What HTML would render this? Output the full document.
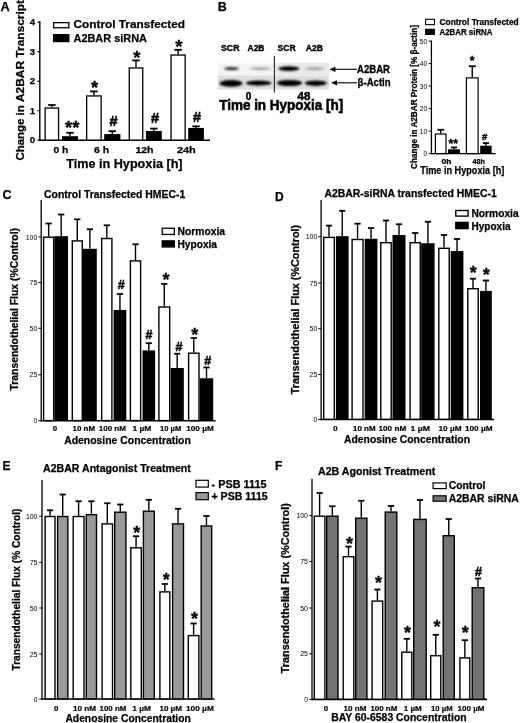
<!DOCTYPE html>
<html><head><meta charset="utf-8"><style>
html,body{margin:0;padding:0;background:#fff;}
body{width:520px;height:723px;overflow:hidden;}
svg{display:block;font-family:"Liberation Sans", sans-serif;will-change:transform;}
</style></head><body>
<svg width="520" height="723" viewBox="0 0 520 723">
<defs><filter id="bl" x="-20%" y="-100%" width="140%" height="300%"><feGaussianBlur stdDeviation="0.8"/></filter></defs>
<rect width="520" height="723" fill="#fff"/>
<text x="0.6" y="10.5" font-size="12.8" font-weight="bold" fill="#000" stroke="#000" stroke-width="0.25">A</text>
<text x="23.8" y="160.6" font-size="11.8" font-weight="bold" textLength="55.3" lengthAdjust="spacingAndGlyphs" transform="rotate(-90 23.8 160.6)" fill="#000" stroke="#000" stroke-width="0.25">Change in</text>
<text x="23.8" y="102.1" font-size="11.8" font-weight="bold" textLength="102.2" lengthAdjust="spacingAndGlyphs" transform="rotate(-90 23.8 102.1)" fill="#000" stroke="#000" stroke-width="0.25">A2BAR Transcript</text>
<line x1="39.80" y1="21.20" x2="39.80" y2="140.90" stroke="#000" stroke-width="1.4"/>
<line x1="39.80" y1="140.20" x2="210.00" y2="140.20" stroke="#000" stroke-width="1.6"/>
<line x1="37.40" y1="140.20" x2="39.80" y2="140.20" stroke="#000" stroke-width="1.2"/>
<text x="35.2" y="143.1" font-size="9.6" font-weight="bold" text-anchor="end" fill="#000" stroke="#000" stroke-width="0.25">0</text>
<line x1="37.40" y1="110.70" x2="39.80" y2="110.70" stroke="#000" stroke-width="1.2"/>
<text x="35.2" y="113.6" font-size="9.6" font-weight="bold" text-anchor="end" fill="#000" stroke="#000" stroke-width="0.25">1</text>
<line x1="37.40" y1="81.20" x2="39.80" y2="81.20" stroke="#000" stroke-width="1.2"/>
<text x="35.2" y="84.1" font-size="9.6" font-weight="bold" text-anchor="end" fill="#000" stroke="#000" stroke-width="0.25">2</text>
<line x1="37.40" y1="51.70" x2="39.80" y2="51.70" stroke="#000" stroke-width="1.2"/>
<text x="35.2" y="54.6" font-size="9.6" font-weight="bold" text-anchor="end" fill="#000" stroke="#000" stroke-width="0.25">3</text>
<line x1="37.40" y1="22.20" x2="39.80" y2="22.20" stroke="#000" stroke-width="1.2"/>
<text x="35.2" y="25.1" font-size="9.6" font-weight="bold" text-anchor="end" fill="#000" stroke="#000" stroke-width="0.25">4</text>
<rect x="53.65" y="22.65" width="15.20" height="5.10" fill="#fff" stroke="#000" stroke-width="1.3"/>
<rect x="53.00" y="34.00" width="16.50" height="8.20" fill="#000"/>
<text x="73.5" y="28.3" font-size="11.6" font-weight="bold" textLength="111.5" lengthAdjust="spacingAndGlyphs" fill="#000" stroke="#000" stroke-width="0.25">Control Transfected</text>
<text x="73.5" y="42.2" font-size="11.6" font-weight="bold" textLength="73.5" lengthAdjust="spacingAndGlyphs" fill="#000" stroke="#000" stroke-width="0.25">A2BAR siRNA</text>
<line x1="51.85" y1="107.40" x2="51.85" y2="105.00" stroke="#000" stroke-width="1.4"/>
<line x1="48.10" y1="105.00" x2="55.60" y2="105.00" stroke="#000" stroke-width="1.8"/>
<rect x="45.15" y="108.05" width="13.40" height="32.10" fill="#fff" stroke="#000" stroke-width="1.3"/>
<line x1="93.90" y1="95.30" x2="93.90" y2="91.40" stroke="#000" stroke-width="1.4"/>
<line x1="90.15" y1="91.40" x2="97.65" y2="91.40" stroke="#000" stroke-width="1.8"/>
<rect x="86.65" y="95.95" width="14.50" height="44.20" fill="#fff" stroke="#000" stroke-width="1.3"/>
<line x1="136.00" y1="67.30" x2="136.00" y2="60.40" stroke="#000" stroke-width="1.4"/>
<line x1="132.25" y1="60.40" x2="139.75" y2="60.40" stroke="#000" stroke-width="1.8"/>
<rect x="129.25" y="67.95" width="13.50" height="72.20" fill="#fff" stroke="#000" stroke-width="1.3"/>
<line x1="178.10" y1="54.40" x2="178.10" y2="49.80" stroke="#000" stroke-width="1.4"/>
<line x1="174.35" y1="49.80" x2="181.85" y2="49.80" stroke="#000" stroke-width="1.8"/>
<rect x="171.05" y="55.05" width="14.10" height="85.10" fill="#fff" stroke="#000" stroke-width="1.3"/>
<line x1="70.00" y1="136.20" x2="70.00" y2="132.80" stroke="#000" stroke-width="1.4"/>
<line x1="66.25" y1="132.80" x2="73.75" y2="132.80" stroke="#000" stroke-width="1.8"/>
<rect x="62.00" y="136.20" width="16.00" height="4.00" fill="#000"/>
<line x1="112.30" y1="134.10" x2="112.30" y2="131.20" stroke="#000" stroke-width="1.4"/>
<line x1="108.55" y1="131.20" x2="116.05" y2="131.20" stroke="#000" stroke-width="1.8"/>
<rect x="104.20" y="134.10" width="16.20" height="6.10" fill="#000"/>
<line x1="153.90" y1="131.00" x2="153.90" y2="128.60" stroke="#000" stroke-width="1.4"/>
<line x1="150.15" y1="128.60" x2="157.65" y2="128.60" stroke="#000" stroke-width="1.8"/>
<rect x="146.00" y="131.00" width="15.80" height="9.20" fill="#000"/>
<line x1="196.05" y1="127.90" x2="196.05" y2="126.30" stroke="#000" stroke-width="1.4"/>
<line x1="192.30" y1="126.30" x2="199.80" y2="126.30" stroke="#000" stroke-width="1.8"/>
<rect x="188.20" y="127.90" width="15.70" height="12.30" fill="#000"/>
<text x="94.5" y="94.04" font-size="18.5" font-weight="bold" text-anchor="middle" fill="#000" stroke="#000" stroke-width="0.3">*</text>
<text x="136.8" y="63.94" font-size="18.5" font-weight="bold" text-anchor="middle" fill="#000" stroke="#000" stroke-width="0.3">*</text>
<text x="178.8" y="53.04" font-size="18.5" font-weight="bold" text-anchor="middle" fill="#000" stroke="#000" stroke-width="0.3">*</text>
<text x="72.3" y="133.64" font-size="18.5" font-weight="bold" text-anchor="middle" fill="#000" stroke="#000" stroke-width="0.3">**</text>
<text x="113.5" y="126.0" font-size="14.5" font-weight="bold" text-anchor="middle" fill="#000" stroke="#000" stroke-width="0.5">#</text>
<text x="155" y="122.6" font-size="14.5" font-weight="bold" text-anchor="middle" fill="#000" stroke="#000" stroke-width="0.5">#</text>
<text x="197" y="121.9" font-size="14.5" font-weight="bold" text-anchor="middle" fill="#000" stroke="#000" stroke-width="0.5">#</text>
<text x="53.4" y="153.2" font-size="9.2" font-weight="bold" textLength="14.8" lengthAdjust="spacingAndGlyphs" fill="#000" stroke="#000" stroke-width="0.25">0 h</text>
<text x="94" y="153.2" font-size="9.2" font-weight="bold" textLength="15.2" lengthAdjust="spacingAndGlyphs" fill="#000" stroke="#000" stroke-width="0.25">6 h</text>
<text x="135.4" y="153.2" font-size="9.2" font-weight="bold" textLength="18.1" lengthAdjust="spacingAndGlyphs" fill="#000" stroke="#000" stroke-width="0.25">12h</text>
<text x="176.9" y="153.2" font-size="9.2" font-weight="bold" textLength="18.9" lengthAdjust="spacingAndGlyphs" fill="#000" stroke="#000" stroke-width="0.25">24h</text>
<text x="66.2" y="168.1" font-size="13" font-weight="bold" textLength="116.4" lengthAdjust="spacingAndGlyphs" fill="#000" stroke="#000" stroke-width="0.25">Time in Hypoxia [h]</text>
<text x="217.8" y="11.2" font-size="12.5" font-weight="bold" fill="#000" stroke="#000" stroke-width="0.25">B</text>
<rect x="218.00" y="63.50" width="56.00" height="11.50" fill="#f3f3f3"/>
<rect x="275.00" y="63.00" width="54.00" height="12.00" fill="#e9e9e9"/>
<rect x="218.00" y="75.50" width="111.00" height="14.00" fill="#dedede"/>
<ellipse cx="231.5" cy="68.6" rx="7.5" ry="1.6" fill="#000" opacity="0.8" filter="url(#bl)"/>
<ellipse cx="260.25" cy="68.6" rx="10.75" ry="1.3" fill="#000" opacity="0.35" filter="url(#bl)"/>
<ellipse cx="288.9" cy="68.6" rx="10.599999999999994" ry="2.3" fill="#000" opacity="1.0" filter="url(#bl)"/>
<ellipse cx="314.75" cy="68.6" rx="9.75" ry="1.3" fill="#000" opacity="0.35" filter="url(#bl)"/>
<ellipse cx="231.0" cy="83.4" rx="11.5" ry="3.4" fill="#000" filter="url(#bl)"/>
<ellipse cx="258.7" cy="83" rx="12.699999999999989" ry="2.6" fill="#000" filter="url(#bl)"/>
<ellipse cx="289.5" cy="83" rx="12.5" ry="3.1" fill="#000" filter="url(#bl)"/>
<ellipse cx="315.8" cy="83.2" rx="11.0" ry="2.7" fill="#000" filter="url(#bl)"/>
<line x1="274.40" y1="56.00" x2="274.40" y2="92.50" stroke="#333" stroke-width="1.2"/>
<text x="221" y="51" font-size="9" font-weight="bold" textLength="18.5" lengthAdjust="spacingAndGlyphs" fill="#000" stroke="#000" stroke-width="0.35">SCR</text>
<text x="247.5" y="51" font-size="9" font-weight="bold" textLength="17.0" lengthAdjust="spacingAndGlyphs" fill="#000" stroke="#000" stroke-width="0.35">A2B</text>
<text x="277.5" y="51" font-size="9" font-weight="bold" textLength="18.2" lengthAdjust="spacingAndGlyphs" fill="#000" stroke="#000" stroke-width="0.35">SCR</text>
<text x="305.7" y="51" font-size="9" font-weight="bold" textLength="17.3" lengthAdjust="spacingAndGlyphs" fill="#000" stroke="#000" stroke-width="0.35">A2B</text>
<line x1="333.40" y1="69.30" x2="357.00" y2="69.30" stroke="#000" stroke-width="1.1"/>
<path d="M329.4,69.3 l6,-2.6 l0,5.2 z" fill="#000"/>
<line x1="335.00" y1="82.80" x2="357.00" y2="82.80" stroke="#000" stroke-width="1.1"/>
<path d="M331,82.8 l6,-2.6 l0,5.2 z" fill="#000"/>
<text x="357" y="72.6" font-size="10" font-weight="bold" textLength="33" lengthAdjust="spacingAndGlyphs" fill="#000" stroke="#000" stroke-width="0.3">A2BAR</text>
<text x="357.6" y="85.6" font-size="10" font-weight="bold" textLength="33" lengthAdjust="spacingAndGlyphs" fill="#000" stroke="#000" stroke-width="0.3">β-Actin</text>
<text x="248.5" y="99.6" font-size="10" font-weight="bold" text-anchor="middle" fill="#000" stroke="#000" stroke-width="0.45">0</text>
<text x="297.5" y="99.6" font-size="10" font-weight="bold" textLength="12.8" lengthAdjust="spacingAndGlyphs" fill="#000" stroke="#000" stroke-width="0.45">48</text>
<text x="219.2" y="109.6" font-size="14" font-weight="bold" textLength="124" lengthAdjust="spacingAndGlyphs" fill="#000" stroke="#000" stroke-width="0.55">Time in Hypoxia [h]</text>
<line x1="431.40" y1="40.60" x2="431.40" y2="154.30" stroke="#000" stroke-width="1.3"/>
<line x1="431.40" y1="153.60" x2="495.70" y2="153.60" stroke="#000" stroke-width="1.3"/>
<line x1="428.70" y1="153.60" x2="431.40" y2="153.60" stroke="#000" stroke-width="1.0"/>
<text x="427.2" y="156.1" font-size="7" text-anchor="end" textLength="3.6" lengthAdjust="spacingAndGlyphs" fill="#000">0</text>
<line x1="428.70" y1="131.10" x2="431.40" y2="131.10" stroke="#000" stroke-width="1.0"/>
<text x="427.2" y="133.6" font-size="7" text-anchor="end" textLength="7.4" lengthAdjust="spacingAndGlyphs" fill="#000">10</text>
<line x1="428.70" y1="108.60" x2="431.40" y2="108.60" stroke="#000" stroke-width="1.0"/>
<text x="427.2" y="111.1" font-size="7" text-anchor="end" textLength="7.4" lengthAdjust="spacingAndGlyphs" fill="#000">20</text>
<line x1="428.70" y1="86.10" x2="431.40" y2="86.10" stroke="#000" stroke-width="1.0"/>
<text x="427.2" y="88.6" font-size="7" text-anchor="end" textLength="7.4" lengthAdjust="spacingAndGlyphs" fill="#000">30</text>
<line x1="428.70" y1="63.60" x2="431.40" y2="63.60" stroke="#000" stroke-width="1.0"/>
<text x="427.2" y="66.1" font-size="7" text-anchor="end" textLength="7.4" lengthAdjust="spacingAndGlyphs" fill="#000">40</text>
<line x1="428.70" y1="41.10" x2="431.40" y2="41.10" stroke="#000" stroke-width="1.0"/>
<text x="427.2" y="43.6" font-size="7" text-anchor="end" textLength="7.4" lengthAdjust="spacingAndGlyphs" fill="#000">50</text>
<line x1="440.70" y1="133.40" x2="440.70" y2="129.80" stroke="#000" stroke-width="1.4"/>
<line x1="437.45" y1="129.80" x2="443.95" y2="129.80" stroke="#000" stroke-width="1.8"/>
<rect x="435.40" y="134.00" width="10.60" height="19.60" fill="#fff" stroke="#000" stroke-width="1.2"/>
<line x1="454.00" y1="149.30" x2="454.00" y2="147.40" stroke="#000" stroke-width="1.4"/>
<line x1="451.00" y1="147.40" x2="457.00" y2="147.40" stroke="#000" stroke-width="1.8"/>
<rect x="448.00" y="149.30" width="12.00" height="4.30" fill="#000"/>
<line x1="472.25" y1="77.30" x2="472.25" y2="66.20" stroke="#000" stroke-width="1.4"/>
<line x1="468.75" y1="66.20" x2="475.75" y2="66.20" stroke="#000" stroke-width="1.8"/>
<rect x="466.40" y="77.90" width="11.70" height="75.70" fill="#fff" stroke="#000" stroke-width="1.2"/>
<line x1="485.90" y1="145.70" x2="485.90" y2="143.10" stroke="#000" stroke-width="1.4"/>
<line x1="482.90" y1="143.10" x2="488.90" y2="143.10" stroke="#000" stroke-width="1.8"/>
<rect x="480.20" y="145.70" width="11.40" height="7.90" fill="#000"/>
<text x="472.1" y="65.3" font-size="12.5" font-weight="bold" text-anchor="middle" fill="#000" stroke="#000" stroke-width="0.3">*</text>
<text x="453.2" y="148.28" font-size="12" font-weight="bold" text-anchor="middle" fill="#000" stroke="#000" stroke-width="0.3">**</text>
<text x="484.6" y="139.6" font-size="9.5" font-weight="bold" text-anchor="middle" fill="#000" stroke="#000" stroke-width="0.5">#</text>
<text x="441.6" y="163.6" font-size="7" font-weight="bold" textLength="10" lengthAdjust="spacingAndGlyphs" fill="#000" stroke="#000" stroke-width="0.25">0h</text>
<text x="472.6" y="163.6" font-size="7" font-weight="bold" textLength="12.3" lengthAdjust="spacingAndGlyphs" fill="#000" stroke="#000" stroke-width="0.25">48h</text>
<text x="420.3" y="174.4" font-size="10.6" font-weight="bold" textLength="84" lengthAdjust="spacingAndGlyphs" fill="#000" stroke="#000" stroke-width="0.25">Time in Hypoxia [h]</text>
<text x="417.2" y="169" font-size="8.4" font-weight="bold" textLength="144" lengthAdjust="spacingAndGlyphs" transform="rotate(-90 417.2 169)" fill="#000" stroke="#000" stroke-width="0.25">Change in A2BAR Protein [% β-actin]</text>
<rect x="425.55" y="19.30" width="8.90" height="5.35" fill="#fff" stroke="#000" stroke-width="1.1"/>
<rect x="425.00" y="28.75" width="10.00" height="6.25" fill="#000"/>
<text x="439.5" y="25.2" font-size="8.2" font-weight="bold" textLength="79.2" lengthAdjust="spacingAndGlyphs" fill="#000" stroke="#000" stroke-width="0.25">Control Transfected</text>
<text x="439.5" y="35.2" font-size="8.2" font-weight="bold" textLength="53" lengthAdjust="spacingAndGlyphs" fill="#000" stroke="#000" stroke-width="0.25">A2BAR siRNA</text>
<text x="2.6" y="199.2" font-size="12.6" font-weight="bold" fill="#000" stroke="#000" stroke-width="0.25">C</text>
<text x="44" y="197.9" font-size="10.2" font-weight="bold" textLength="141.2" lengthAdjust="spacingAndGlyphs" fill="#000" stroke="#000" stroke-width="0.25">Control Transfected HMEC-1</text>
<text x="18.2" y="390.5" font-size="10.4" font-weight="bold" textLength="162.5" lengthAdjust="spacingAndGlyphs" transform="rotate(-90 18.2 390.5)" fill="#000" stroke="#000" stroke-width="0.25">Transendothelial Flux (%Control)</text>
<line x1="41.20" y1="200.00" x2="41.20" y2="421.50" stroke="#000" stroke-width="1.3"/>
<line x1="41.20" y1="420.70" x2="215.50" y2="420.70" stroke="#000" stroke-width="1.6"/>
<line x1="38.40" y1="420.70" x2="41.20" y2="420.70" stroke="#000" stroke-width="1.0"/>
<text x="37.3" y="423.3" font-size="7" text-anchor="end" textLength="3.8" lengthAdjust="spacingAndGlyphs" fill="#000">0</text>
<line x1="38.40" y1="374.80" x2="41.20" y2="374.80" stroke="#000" stroke-width="1.0"/>
<text x="37.3" y="377.4" font-size="7" text-anchor="end" textLength="7.8" lengthAdjust="spacingAndGlyphs" fill="#000">25</text>
<line x1="38.40" y1="328.30" x2="41.20" y2="328.30" stroke="#000" stroke-width="1.0"/>
<text x="37.3" y="330.9" font-size="7" text-anchor="end" textLength="7.8" lengthAdjust="spacingAndGlyphs" fill="#000">50</text>
<line x1="38.40" y1="282.60" x2="41.20" y2="282.60" stroke="#000" stroke-width="1.0"/>
<text x="37.3" y="285.2" font-size="7" text-anchor="end" textLength="7.8" lengthAdjust="spacingAndGlyphs" fill="#000">75</text>
<line x1="38.40" y1="237.00" x2="41.20" y2="237.00" stroke="#000" stroke-width="1.0"/>
<text x="37.3" y="239.6" font-size="7" text-anchor="end" textLength="11.6" lengthAdjust="spacingAndGlyphs" fill="#000">100</text>
<line x1="48.65" y1="236.50" x2="48.65" y2="223.50" stroke="#000" stroke-width="1.4"/>
<line x1="45.55" y1="223.50" x2="51.75" y2="223.50" stroke="#000" stroke-width="1.8"/>
<rect x="43.60" y="237.20" width="10.10" height="183.40" fill="#fff" stroke="#000" stroke-width="1.4"/>
<line x1="61.20" y1="236.20" x2="61.20" y2="214.50" stroke="#000" stroke-width="1.4"/>
<line x1="58.10" y1="214.50" x2="64.30" y2="214.50" stroke="#000" stroke-width="1.8"/>
<rect x="54.40" y="236.20" width="13.60" height="184.50" fill="#000"/>
<line x1="77.30" y1="240.20" x2="77.30" y2="219.30" stroke="#000" stroke-width="1.4"/>
<line x1="74.20" y1="219.30" x2="80.40" y2="219.30" stroke="#000" stroke-width="1.8"/>
<rect x="72.30" y="240.90" width="10.00" height="179.70" fill="#fff" stroke="#000" stroke-width="1.4"/>
<line x1="89.90" y1="248.80" x2="89.90" y2="229.30" stroke="#000" stroke-width="1.4"/>
<line x1="86.80" y1="229.30" x2="93.00" y2="229.30" stroke="#000" stroke-width="1.8"/>
<rect x="83.00" y="248.80" width="13.80" height="171.90" fill="#000"/>
<line x1="106.80" y1="237.80" x2="106.80" y2="225.30" stroke="#000" stroke-width="1.4"/>
<line x1="103.70" y1="225.30" x2="109.90" y2="225.30" stroke="#000" stroke-width="1.8"/>
<rect x="101.70" y="238.50" width="10.20" height="182.10" fill="#fff" stroke="#000" stroke-width="1.4"/>
<line x1="119.95" y1="310.00" x2="119.95" y2="294.00" stroke="#000" stroke-width="1.4"/>
<line x1="116.85" y1="294.00" x2="123.05" y2="294.00" stroke="#000" stroke-width="1.8"/>
<rect x="113.60" y="310.00" width="12.70" height="110.70" fill="#000"/>
<line x1="135.50" y1="260.20" x2="135.50" y2="244.30" stroke="#000" stroke-width="1.4"/>
<line x1="132.40" y1="244.30" x2="138.60" y2="244.30" stroke="#000" stroke-width="1.8"/>
<rect x="130.40" y="260.90" width="10.20" height="159.70" fill="#fff" stroke="#000" stroke-width="1.4"/>
<line x1="148.80" y1="350.40" x2="148.80" y2="343.20" stroke="#000" stroke-width="1.4"/>
<line x1="145.70" y1="343.20" x2="151.90" y2="343.20" stroke="#000" stroke-width="1.8"/>
<rect x="142.50" y="350.40" width="12.60" height="70.30" fill="#000"/>
<line x1="164.30" y1="306.30" x2="164.30" y2="283.90" stroke="#000" stroke-width="1.4"/>
<line x1="161.20" y1="283.90" x2="167.40" y2="283.90" stroke="#000" stroke-width="1.8"/>
<rect x="158.90" y="307.00" width="10.80" height="113.60" fill="#fff" stroke="#000" stroke-width="1.4"/>
<line x1="177.20" y1="368.00" x2="177.20" y2="353.75" stroke="#000" stroke-width="1.4"/>
<line x1="174.10" y1="353.75" x2="180.30" y2="353.75" stroke="#000" stroke-width="1.8"/>
<rect x="170.60" y="368.00" width="13.20" height="52.70" fill="#000"/>
<line x1="193.80" y1="352.50" x2="193.80" y2="338.00" stroke="#000" stroke-width="1.4"/>
<line x1="190.70" y1="338.00" x2="196.90" y2="338.00" stroke="#000" stroke-width="1.8"/>
<rect x="188.60" y="353.20" width="10.40" height="67.40" fill="#fff" stroke="#000" stroke-width="1.4"/>
<line x1="206.50" y1="378.25" x2="206.50" y2="367.50" stroke="#000" stroke-width="1.4"/>
<line x1="203.40" y1="367.50" x2="209.60" y2="367.50" stroke="#000" stroke-width="1.8"/>
<rect x="199.80" y="378.25" width="13.40" height="42.45" fill="#000"/>
<text x="121.3" y="289.2" font-size="12.5" font-weight="bold" text-anchor="middle" fill="#000" stroke="#000" stroke-width="0.5">#</text>
<text x="149.05" y="339.0" font-size="12.5" font-weight="bold" text-anchor="middle" fill="#000" stroke="#000" stroke-width="0.5">#</text>
<text x="166.1" y="286.32" font-size="18" font-weight="bold" text-anchor="middle" fill="#000" stroke="#000" stroke-width="0.3">*</text>
<text x="179" y="350.8" font-size="12.5" font-weight="bold" text-anchor="middle" fill="#000" stroke="#000" stroke-width="0.5">#</text>
<text x="194.8" y="340.82" font-size="18" font-weight="bold" text-anchor="middle" fill="#000" stroke="#000" stroke-width="0.3">*</text>
<text x="207.7" y="364.6" font-size="12.5" font-weight="bold" text-anchor="middle" fill="#000" stroke="#000" stroke-width="0.5">#</text>
<rect x="162.25" y="228.25" width="12.10" height="6.20" fill="#fff" stroke="#000" stroke-width="1.3"/>
<rect x="161.60" y="240.20" width="13.40" height="7.40" fill="#000"/>
<text x="177.5" y="235.2" font-size="10" font-weight="bold" textLength="47.5" lengthAdjust="spacingAndGlyphs" fill="#000" stroke="#000" stroke-width="0.25">Normoxia</text>
<text x="177.5" y="247.6" font-size="10" font-weight="bold" textLength="39.5" lengthAdjust="spacingAndGlyphs" fill="#000" stroke="#000" stroke-width="0.25">Hypoxia</text>
<text x="55" y="431.2" font-size="7.8" font-weight="bold" text-anchor="middle" fill="#000" stroke="#000" stroke-width="0.2">0</text>
<text x="72.5" y="431.2" font-size="7.8" font-weight="bold" textLength="22.5" lengthAdjust="spacingAndGlyphs" fill="#000" stroke="#000" stroke-width="0.2">10 nM</text>
<text x="98.75" y="431.2" font-size="7.8" font-weight="bold" textLength="27.2" lengthAdjust="spacingAndGlyphs" fill="#000" stroke="#000" stroke-width="0.2">100 nM</text>
<text x="132.5" y="431.2" font-size="7.8" font-weight="bold" textLength="18.8" lengthAdjust="spacingAndGlyphs" fill="#000" stroke="#000" stroke-width="0.2">1 µM</text>
<text x="160" y="431.2" font-size="7.8" font-weight="bold" textLength="21.2" lengthAdjust="spacingAndGlyphs" fill="#000" stroke="#000" stroke-width="0.2">10 µM</text>
<text x="186.25" y="431.2" font-size="7.8" font-weight="bold" textLength="27.5" lengthAdjust="spacingAndGlyphs" fill="#000" stroke="#000" stroke-width="0.2">100 µM</text>
<text x="64.2" y="444.2" font-size="11" font-weight="bold" textLength="126.6" lengthAdjust="spacingAndGlyphs" fill="#000" stroke="#000" stroke-width="0.25">Adenosine Concentration</text>
<text x="275" y="200.5" font-size="12" font-weight="bold" fill="#000" stroke="#000" stroke-width="0.25">D</text>
<text x="324.4" y="196.9" font-size="10.2" font-weight="bold" textLength="172.3" lengthAdjust="spacingAndGlyphs" fill="#000" stroke="#000" stroke-width="0.25">A2BAR-siRNA transfected HMEC-1</text>
<text x="298.8" y="394.3" font-size="10.4" font-weight="bold" textLength="169.4" lengthAdjust="spacingAndGlyphs" transform="rotate(-90 298.8 394.3)" fill="#000" stroke="#000" stroke-width="0.25">Transendothelial Flux (%Control)</text>
<line x1="321.10" y1="200.00" x2="321.10" y2="420.30" stroke="#000" stroke-width="1.3"/>
<line x1="321.10" y1="419.50" x2="494.00" y2="419.50" stroke="#000" stroke-width="1.6"/>
<line x1="318.30" y1="419.50" x2="321.10" y2="419.50" stroke="#000" stroke-width="1.0"/>
<text x="317.3" y="422.1" font-size="7" text-anchor="end" textLength="3.8" lengthAdjust="spacingAndGlyphs" fill="#000">0</text>
<line x1="318.30" y1="374.50" x2="321.10" y2="374.50" stroke="#000" stroke-width="1.0"/>
<text x="317.3" y="377.1" font-size="7" text-anchor="end" textLength="7.8" lengthAdjust="spacingAndGlyphs" fill="#000">25</text>
<line x1="318.30" y1="328.75" x2="321.10" y2="328.75" stroke="#000" stroke-width="1.0"/>
<text x="317.3" y="331.35" font-size="7" text-anchor="end" textLength="7.8" lengthAdjust="spacingAndGlyphs" fill="#000">50</text>
<line x1="318.30" y1="283.00" x2="321.10" y2="283.00" stroke="#000" stroke-width="1.0"/>
<text x="317.3" y="285.6" font-size="7" text-anchor="end" textLength="7.8" lengthAdjust="spacingAndGlyphs" fill="#000">75</text>
<line x1="318.30" y1="236.70" x2="321.10" y2="236.70" stroke="#000" stroke-width="1.0"/>
<text x="317.3" y="239.3" font-size="7" text-anchor="end" textLength="11.6" lengthAdjust="spacingAndGlyphs" fill="#000">100</text>
<line x1="329.00" y1="236.70" x2="329.00" y2="225.60" stroke="#000" stroke-width="1.4"/>
<line x1="325.90" y1="225.60" x2="332.10" y2="225.60" stroke="#000" stroke-width="1.8"/>
<rect x="323.70" y="237.40" width="10.60" height="181.90" fill="#fff" stroke="#000" stroke-width="1.4"/>
<line x1="342.25" y1="236.20" x2="342.25" y2="210.80" stroke="#000" stroke-width="1.4"/>
<line x1="339.15" y1="210.80" x2="345.35" y2="210.80" stroke="#000" stroke-width="1.8"/>
<rect x="335.90" y="236.20" width="12.70" height="183.20" fill="#000"/>
<line x1="357.55" y1="238.80" x2="357.55" y2="223.70" stroke="#000" stroke-width="1.4"/>
<line x1="354.45" y1="223.70" x2="360.65" y2="223.70" stroke="#000" stroke-width="1.8"/>
<rect x="352.10" y="239.50" width="10.90" height="179.80" fill="#fff" stroke="#000" stroke-width="1.4"/>
<line x1="371.05" y1="238.75" x2="371.05" y2="228.00" stroke="#000" stroke-width="1.4"/>
<line x1="367.95" y1="228.00" x2="374.15" y2="228.00" stroke="#000" stroke-width="1.8"/>
<rect x="364.70" y="238.75" width="12.70" height="180.65" fill="#000"/>
<line x1="386.00" y1="242.00" x2="386.00" y2="220.50" stroke="#000" stroke-width="1.4"/>
<line x1="382.90" y1="220.50" x2="389.10" y2="220.50" stroke="#000" stroke-width="1.8"/>
<rect x="380.80" y="242.70" width="10.40" height="176.60" fill="#fff" stroke="#000" stroke-width="1.4"/>
<line x1="399.00" y1="235.00" x2="399.00" y2="224.25" stroke="#000" stroke-width="1.4"/>
<line x1="395.90" y1="224.25" x2="402.10" y2="224.25" stroke="#000" stroke-width="1.8"/>
<rect x="392.50" y="235.00" width="13.00" height="184.40" fill="#000"/>
<line x1="415.20" y1="242.00" x2="415.20" y2="233.00" stroke="#000" stroke-width="1.4"/>
<line x1="412.10" y1="233.00" x2="418.30" y2="233.00" stroke="#000" stroke-width="1.8"/>
<rect x="410.10" y="242.70" width="10.20" height="176.60" fill="#fff" stroke="#000" stroke-width="1.4"/>
<line x1="427.90" y1="243.25" x2="427.90" y2="221.75" stroke="#000" stroke-width="1.4"/>
<line x1="424.80" y1="221.75" x2="431.00" y2="221.75" stroke="#000" stroke-width="1.8"/>
<rect x="421.20" y="243.25" width="13.40" height="176.15" fill="#000"/>
<line x1="444.00" y1="247.60" x2="444.00" y2="235.00" stroke="#000" stroke-width="1.4"/>
<line x1="440.90" y1="235.00" x2="447.10" y2="235.00" stroke="#000" stroke-width="1.8"/>
<rect x="438.80" y="248.30" width="10.40" height="171.00" fill="#fff" stroke="#000" stroke-width="1.4"/>
<line x1="457.05" y1="251.00" x2="457.05" y2="239.00" stroke="#000" stroke-width="1.4"/>
<line x1="453.95" y1="239.00" x2="460.15" y2="239.00" stroke="#000" stroke-width="1.8"/>
<rect x="450.70" y="251.00" width="12.70" height="168.40" fill="#000"/>
<line x1="473.00" y1="288.00" x2="473.00" y2="278.70" stroke="#000" stroke-width="1.4"/>
<line x1="469.90" y1="278.70" x2="476.10" y2="278.70" stroke="#000" stroke-width="1.8"/>
<rect x="467.80" y="288.70" width="10.40" height="130.60" fill="#fff" stroke="#000" stroke-width="1.4"/>
<line x1="485.90" y1="290.90" x2="485.90" y2="280.50" stroke="#000" stroke-width="1.4"/>
<line x1="482.80" y1="280.50" x2="489.00" y2="280.50" stroke="#000" stroke-width="1.8"/>
<rect x="480.00" y="290.90" width="11.80" height="128.50" fill="#000"/>
<text x="473.3" y="279.42" font-size="18" font-weight="bold" text-anchor="middle" fill="#000" stroke="#000" stroke-width="0.3">*</text>
<text x="486.2" y="280.92" font-size="18" font-weight="bold" text-anchor="middle" fill="#000" stroke="#000" stroke-width="0.3">*</text>
<rect x="455.80" y="210.50" width="12.30" height="5.60" fill="#fff" stroke="#000" stroke-width="1.4"/>
<rect x="455.10" y="221.70" width="13.70" height="7.60" fill="#000"/>
<text x="471.5" y="217.4" font-size="10" font-weight="bold" textLength="47.1" lengthAdjust="spacingAndGlyphs" fill="#000" stroke="#000" stroke-width="0.25">Normoxia</text>
<text x="471.5" y="229.5" font-size="10" font-weight="bold" textLength="39" lengthAdjust="spacingAndGlyphs" fill="#000" stroke="#000" stroke-width="0.25">Hypoxia</text>
<text x="335.5" y="431.0" font-size="7.8" font-weight="bold" text-anchor="middle" fill="#000" stroke="#000" stroke-width="0.2">0</text>
<text x="353" y="431.0" font-size="7.8" font-weight="bold" textLength="22.5" lengthAdjust="spacingAndGlyphs" fill="#000" stroke="#000" stroke-width="0.2">10 nM</text>
<text x="378.5" y="431.0" font-size="7.8" font-weight="bold" textLength="27.7" lengthAdjust="spacingAndGlyphs" fill="#000" stroke="#000" stroke-width="0.2">100 nM</text>
<text x="410.5" y="431.0" font-size="7.8" font-weight="bold" textLength="19.5" lengthAdjust="spacingAndGlyphs" fill="#000" stroke="#000" stroke-width="0.2">1 µM</text>
<text x="438.5" y="431.0" font-size="7.8" font-weight="bold" textLength="23.0" lengthAdjust="spacingAndGlyphs" fill="#000" stroke="#000" stroke-width="0.2">10 µM</text>
<text x="465" y="431.0" font-size="7.8" font-weight="bold" textLength="27.5" lengthAdjust="spacingAndGlyphs" fill="#000" stroke="#000" stroke-width="0.2">100 µM</text>
<text x="344" y="442.8" font-size="11" font-weight="bold" textLength="126" lengthAdjust="spacingAndGlyphs" fill="#000" stroke="#000" stroke-width="0.25">Adenosine Concentration</text>
<text x="2.5" y="469.5" font-size="12" font-weight="bold" fill="#000" stroke="#000" stroke-width="0.25">E</text>
<text x="43" y="472.4" font-size="10.4" font-weight="bold" textLength="147.8" lengthAdjust="spacingAndGlyphs" fill="#000" stroke="#000" stroke-width="0.25">A2BAR Antagonist Treatment</text>
<text x="19.6" y="670.5" font-size="10.4" font-weight="bold" textLength="162" lengthAdjust="spacingAndGlyphs" transform="rotate(-90 19.6 670.5)" fill="#000" stroke="#000" stroke-width="0.25">Transendothelial Flux (% Control)</text>
<line x1="42.00" y1="480.00" x2="42.00" y2="699.80" stroke="#000" stroke-width="1.3"/>
<line x1="42.00" y1="699.00" x2="214.50" y2="699.00" stroke="#000" stroke-width="1.6"/>
<line x1="39.20" y1="699.00" x2="42.00" y2="699.00" stroke="#000" stroke-width="1.0"/>
<text x="37.5" y="701.6" font-size="7" text-anchor="end" textLength="3.8" lengthAdjust="spacingAndGlyphs" fill="#000">0</text>
<line x1="39.20" y1="654.00" x2="42.00" y2="654.00" stroke="#000" stroke-width="1.0"/>
<text x="37.5" y="656.6" font-size="7" text-anchor="end" textLength="7.8" lengthAdjust="spacingAndGlyphs" fill="#000">25</text>
<line x1="39.20" y1="608.00" x2="42.00" y2="608.00" stroke="#000" stroke-width="1.0"/>
<text x="37.5" y="610.6" font-size="7" text-anchor="end" textLength="7.8" lengthAdjust="spacingAndGlyphs" fill="#000">50</text>
<line x1="39.20" y1="562.30" x2="42.00" y2="562.30" stroke="#000" stroke-width="1.0"/>
<text x="37.5" y="564.9" font-size="7" text-anchor="end" textLength="7.8" lengthAdjust="spacingAndGlyphs" fill="#000">75</text>
<line x1="39.20" y1="516.20" x2="42.00" y2="516.20" stroke="#000" stroke-width="1.0"/>
<text x="37.5" y="518.8" font-size="7" text-anchor="end" textLength="11.6" lengthAdjust="spacingAndGlyphs" fill="#000">100</text>
<line x1="50.05" y1="515.80" x2="50.05" y2="510.30" stroke="#000" stroke-width="1.4"/>
<line x1="46.95" y1="510.30" x2="53.15" y2="510.30" stroke="#000" stroke-width="1.8"/>
<rect x="45.10" y="516.50" width="9.90" height="182.40" fill="#fff" stroke="#000" stroke-width="1.4"/>
<line x1="62.70" y1="515.80" x2="62.70" y2="494.50" stroke="#000" stroke-width="1.4"/>
<line x1="59.60" y1="494.50" x2="65.80" y2="494.50" stroke="#000" stroke-width="1.8"/>
<rect x="57.60" y="516.50" width="10.20" height="182.40" fill="#999999" stroke="#000" stroke-width="1.4"/>
<line x1="78.60" y1="515.80" x2="78.60" y2="501.25" stroke="#000" stroke-width="1.4"/>
<line x1="75.50" y1="501.25" x2="81.70" y2="501.25" stroke="#000" stroke-width="1.8"/>
<rect x="73.20" y="516.50" width="10.80" height="182.40" fill="#fff" stroke="#000" stroke-width="1.4"/>
<line x1="91.40" y1="514.00" x2="91.40" y2="501.25" stroke="#000" stroke-width="1.4"/>
<line x1="88.30" y1="501.25" x2="94.50" y2="501.25" stroke="#000" stroke-width="1.8"/>
<rect x="86.30" y="514.70" width="10.20" height="184.20" fill="#999999" stroke="#000" stroke-width="1.4"/>
<line x1="107.30" y1="523.20" x2="107.30" y2="503.25" stroke="#000" stroke-width="1.4"/>
<line x1="104.20" y1="503.25" x2="110.40" y2="503.25" stroke="#000" stroke-width="1.8"/>
<rect x="102.10" y="523.90" width="10.40" height="175.00" fill="#fff" stroke="#000" stroke-width="1.4"/>
<line x1="120.30" y1="511.50" x2="120.30" y2="504.50" stroke="#000" stroke-width="1.4"/>
<line x1="117.20" y1="504.50" x2="123.40" y2="504.50" stroke="#000" stroke-width="1.8"/>
<rect x="114.70" y="512.20" width="11.20" height="186.70" fill="#999999" stroke="#000" stroke-width="1.4"/>
<line x1="136.05" y1="547.10" x2="136.05" y2="536.20" stroke="#000" stroke-width="1.4"/>
<line x1="132.95" y1="536.20" x2="139.15" y2="536.20" stroke="#000" stroke-width="1.8"/>
<rect x="130.80" y="547.80" width="10.50" height="151.10" fill="#fff" stroke="#000" stroke-width="1.4"/>
<line x1="148.85" y1="510.50" x2="148.85" y2="499.80" stroke="#000" stroke-width="1.4"/>
<line x1="145.75" y1="499.80" x2="151.95" y2="499.80" stroke="#000" stroke-width="1.8"/>
<rect x="143.40" y="511.20" width="10.90" height="187.70" fill="#999999" stroke="#000" stroke-width="1.4"/>
<line x1="164.85" y1="591.20" x2="164.85" y2="584.00" stroke="#000" stroke-width="1.4"/>
<line x1="161.75" y1="584.00" x2="167.95" y2="584.00" stroke="#000" stroke-width="1.8"/>
<rect x="159.90" y="591.90" width="9.90" height="107.00" fill="#fff" stroke="#000" stroke-width="1.4"/>
<line x1="178.05" y1="523.20" x2="178.05" y2="508.80" stroke="#000" stroke-width="1.4"/>
<line x1="174.95" y1="508.80" x2="181.15" y2="508.80" stroke="#000" stroke-width="1.8"/>
<rect x="172.60" y="523.90" width="10.90" height="175.00" fill="#999999" stroke="#000" stroke-width="1.4"/>
<line x1="193.60" y1="634.90" x2="193.60" y2="623.50" stroke="#000" stroke-width="1.4"/>
<line x1="190.50" y1="623.50" x2="196.70" y2="623.50" stroke="#000" stroke-width="1.8"/>
<rect x="188.30" y="635.60" width="10.60" height="63.30" fill="#fff" stroke="#000" stroke-width="1.4"/>
<line x1="206.45" y1="525.30" x2="206.45" y2="516.00" stroke="#000" stroke-width="1.4"/>
<line x1="203.35" y1="516.00" x2="209.55" y2="516.00" stroke="#000" stroke-width="1.8"/>
<rect x="201.20" y="526.00" width="10.50" height="172.90" fill="#999999" stroke="#000" stroke-width="1.4"/>
<text x="136.8" y="539.12" font-size="18" font-weight="bold" text-anchor="middle" fill="#000" stroke="#000" stroke-width="0.3">*</text>
<text x="166.3" y="585.92" font-size="18" font-weight="bold" text-anchor="middle" fill="#000" stroke="#000" stroke-width="0.3">*</text>
<text x="194.4" y="624.72" font-size="18" font-weight="bold" text-anchor="middle" fill="#000" stroke="#000" stroke-width="0.3">*</text>
<rect x="196.00" y="480.30" width="12.30" height="6.80" fill="#fff" stroke="#000" stroke-width="1.2"/>
<rect x="196.00" y="492.60" width="12.30" height="7.10" fill="#999999" stroke="#000" stroke-width="1.2"/>
<text x="211.5" y="487.5" font-size="10" font-weight="bold" textLength="55" lengthAdjust="spacingAndGlyphs" fill="#000" stroke="#000" stroke-width="0.25">- PSB 1115</text>
<text x="211.5" y="499.8" font-size="10" font-weight="bold" textLength="56.2" lengthAdjust="spacingAndGlyphs" fill="#000" stroke="#000" stroke-width="0.25">+ PSB 1115</text>
<text x="56.25" y="710.5" font-size="7.8" font-weight="bold" text-anchor="middle" fill="#000" stroke="#000" stroke-width="0.2">0</text>
<text x="73" y="710.5" font-size="7.8" font-weight="bold" textLength="23.2" lengthAdjust="spacingAndGlyphs" fill="#000" stroke="#000" stroke-width="0.2">10 nM</text>
<text x="99.5" y="710.5" font-size="7.8" font-weight="bold" textLength="26.8" lengthAdjust="spacingAndGlyphs" fill="#000" stroke="#000" stroke-width="0.2">100 nM</text>
<text x="132.3" y="710.5" font-size="7.8" font-weight="bold" textLength="18.5" lengthAdjust="spacingAndGlyphs" fill="#000" stroke="#000" stroke-width="0.2">1 µM</text>
<text x="159.4" y="710.5" font-size="7.8" font-weight="bold" textLength="22.6" lengthAdjust="spacingAndGlyphs" fill="#000" stroke="#000" stroke-width="0.2">10 µM</text>
<text x="186" y="710.5" font-size="7.8" font-weight="bold" textLength="27.8" lengthAdjust="spacingAndGlyphs" fill="#000" stroke="#000" stroke-width="0.2">100 µM</text>
<text x="65.4" y="722" font-size="11" font-weight="bold" textLength="125.4" lengthAdjust="spacingAndGlyphs" fill="#000" stroke="#000" stroke-width="0.25">Adenosine Concentration</text>
<text x="275" y="470" font-size="12" font-weight="bold" fill="#000" stroke="#000" stroke-width="0.25">F</text>
<text x="318" y="475" font-size="10.4" font-weight="bold" textLength="117.2" lengthAdjust="spacingAndGlyphs" fill="#000" stroke="#000" stroke-width="0.25">A2B Agonist Treatment</text>
<text x="288.7" y="673.3" font-size="10.4" font-weight="bold" textLength="170.2" lengthAdjust="spacingAndGlyphs" transform="rotate(-90 288.7 673.3)" fill="#000" stroke="#000" stroke-width="0.25">Transendothelial Flux (%Control)</text>
<line x1="312.00" y1="478.75" x2="312.00" y2="700.20" stroke="#000" stroke-width="1.3"/>
<line x1="312.00" y1="699.40" x2="487.00" y2="699.40" stroke="#000" stroke-width="1.6"/>
<line x1="309.20" y1="699.40" x2="312.00" y2="699.40" stroke="#000" stroke-width="1.0"/>
<text x="308" y="702.0" font-size="7" text-anchor="end" textLength="3.8" lengthAdjust="spacingAndGlyphs" fill="#000">0</text>
<line x1="309.20" y1="653.80" x2="312.00" y2="653.80" stroke="#000" stroke-width="1.0"/>
<text x="308" y="656.4" font-size="7" text-anchor="end" textLength="7.8" lengthAdjust="spacingAndGlyphs" fill="#000">25</text>
<line x1="309.20" y1="608.00" x2="312.00" y2="608.00" stroke="#000" stroke-width="1.0"/>
<text x="308" y="610.6" font-size="7" text-anchor="end" textLength="7.8" lengthAdjust="spacingAndGlyphs" fill="#000">50</text>
<line x1="309.20" y1="561.40" x2="312.00" y2="561.40" stroke="#000" stroke-width="1.0"/>
<text x="308" y="564.0" font-size="7" text-anchor="end" textLength="7.8" lengthAdjust="spacingAndGlyphs" fill="#000">75</text>
<line x1="309.20" y1="515.60" x2="312.00" y2="515.60" stroke="#000" stroke-width="1.0"/>
<text x="308" y="518.2" font-size="7" text-anchor="end" textLength="11.6" lengthAdjust="spacingAndGlyphs" fill="#000">100</text>
<line x1="319.60" y1="515.50" x2="319.60" y2="493.00" stroke="#000" stroke-width="1.4"/>
<line x1="316.50" y1="493.00" x2="322.70" y2="493.00" stroke="#000" stroke-width="1.8"/>
<rect x="314.30" y="516.20" width="10.60" height="183.10" fill="#fff" stroke="#000" stroke-width="1.4"/>
<line x1="332.35" y1="515.50" x2="332.35" y2="506.25" stroke="#000" stroke-width="1.4"/>
<line x1="329.25" y1="506.25" x2="335.45" y2="506.25" stroke="#000" stroke-width="1.8"/>
<rect x="326.70" y="516.20" width="11.30" height="183.10" fill="#737373" stroke="#000" stroke-width="1.4"/>
<line x1="348.50" y1="556.00" x2="348.50" y2="546.60" stroke="#000" stroke-width="1.4"/>
<line x1="345.40" y1="546.60" x2="351.60" y2="546.60" stroke="#000" stroke-width="1.8"/>
<rect x="343.20" y="556.70" width="10.60" height="142.60" fill="#fff" stroke="#000" stroke-width="1.4"/>
<line x1="361.30" y1="517.50" x2="361.30" y2="500.75" stroke="#000" stroke-width="1.4"/>
<line x1="358.20" y1="500.75" x2="364.40" y2="500.75" stroke="#000" stroke-width="1.8"/>
<rect x="355.70" y="518.20" width="11.20" height="181.10" fill="#737373" stroke="#000" stroke-width="1.4"/>
<line x1="377.40" y1="600.40" x2="377.40" y2="589.50" stroke="#000" stroke-width="1.4"/>
<line x1="374.30" y1="589.50" x2="380.50" y2="589.50" stroke="#000" stroke-width="1.8"/>
<rect x="372.10" y="601.10" width="10.60" height="98.20" fill="#fff" stroke="#000" stroke-width="1.4"/>
<line x1="391.00" y1="511.40" x2="391.00" y2="506.00" stroke="#000" stroke-width="1.4"/>
<line x1="387.90" y1="506.00" x2="394.10" y2="506.00" stroke="#000" stroke-width="1.8"/>
<rect x="385.20" y="512.10" width="11.60" height="187.20" fill="#737373" stroke="#000" stroke-width="1.4"/>
<line x1="406.80" y1="651.50" x2="406.80" y2="638.80" stroke="#000" stroke-width="1.4"/>
<line x1="403.70" y1="638.80" x2="409.90" y2="638.80" stroke="#000" stroke-width="1.8"/>
<rect x="401.80" y="652.20" width="10.00" height="47.10" fill="#fff" stroke="#000" stroke-width="1.4"/>
<line x1="419.95" y1="518.70" x2="419.95" y2="500.00" stroke="#000" stroke-width="1.4"/>
<line x1="416.85" y1="500.00" x2="423.05" y2="500.00" stroke="#000" stroke-width="1.8"/>
<rect x="413.70" y="519.40" width="12.50" height="179.90" fill="#737373" stroke="#000" stroke-width="1.4"/>
<line x1="435.75" y1="655.00" x2="435.75" y2="634.80" stroke="#000" stroke-width="1.4"/>
<line x1="432.65" y1="634.80" x2="438.85" y2="634.80" stroke="#000" stroke-width="1.8"/>
<rect x="430.70" y="655.70" width="10.10" height="43.60" fill="#fff" stroke="#000" stroke-width="1.4"/>
<line x1="448.75" y1="535.00" x2="448.75" y2="519.00" stroke="#000" stroke-width="1.4"/>
<line x1="445.65" y1="519.00" x2="451.85" y2="519.00" stroke="#000" stroke-width="1.8"/>
<rect x="443.20" y="535.70" width="11.10" height="163.60" fill="#737373" stroke="#000" stroke-width="1.4"/>
<line x1="464.85" y1="657.20" x2="464.85" y2="640.20" stroke="#000" stroke-width="1.4"/>
<line x1="461.75" y1="640.20" x2="467.95" y2="640.20" stroke="#000" stroke-width="1.8"/>
<rect x="459.90" y="657.90" width="9.90" height="41.40" fill="#fff" stroke="#000" stroke-width="1.4"/>
<line x1="478.00" y1="587.00" x2="478.00" y2="578.50" stroke="#000" stroke-width="1.4"/>
<line x1="474.90" y1="578.50" x2="481.10" y2="578.50" stroke="#000" stroke-width="1.8"/>
<rect x="472.20" y="587.70" width="11.60" height="111.60" fill="#737373" stroke="#000" stroke-width="1.4"/>
<text x="349.6" y="549.72" font-size="18" font-weight="bold" text-anchor="middle" fill="#000" stroke="#000" stroke-width="0.3">*</text>
<text x="378.4" y="588.52" font-size="18" font-weight="bold" text-anchor="middle" fill="#000" stroke="#000" stroke-width="0.3">*</text>
<text x="407.4" y="638.52" font-size="18" font-weight="bold" text-anchor="middle" fill="#000" stroke="#000" stroke-width="0.3">*</text>
<text x="436.9" y="633.12" font-size="18" font-weight="bold" text-anchor="middle" fill="#000" stroke="#000" stroke-width="0.3">*</text>
<text x="465.2" y="638.52" font-size="18" font-weight="bold" text-anchor="middle" fill="#000" stroke="#000" stroke-width="0.3">*</text>
<text x="478.6" y="575.6" font-size="12.5" font-weight="bold" text-anchor="middle" fill="#000" stroke="#000" stroke-width="0.5">#</text>
<rect x="433.10" y="482.90" width="13.10" height="5.70" fill="#fff" stroke="#000" stroke-width="1.2"/>
<rect x="433.10" y="495.80" width="13.10" height="5.40" fill="#737373" stroke="#000" stroke-width="1.2"/>
<text x="448.7" y="489.2" font-size="10" font-weight="bold" textLength="36.8" lengthAdjust="spacingAndGlyphs" fill="#000" stroke="#000" stroke-width="0.25">Control</text>
<text x="448.7" y="501.8" font-size="10" font-weight="bold" textLength="70" lengthAdjust="spacingAndGlyphs" fill="#000" stroke="#000" stroke-width="0.25">A2BAR siRNA</text>
<text x="326" y="710.8" font-size="7.8" font-weight="bold" text-anchor="middle" fill="#000" stroke="#000" stroke-width="0.2">0</text>
<text x="343.5" y="710.8" font-size="7.8" font-weight="bold" textLength="22.9" lengthAdjust="spacingAndGlyphs" fill="#000" stroke="#000" stroke-width="0.2">10 nM</text>
<text x="370.4" y="710.8" font-size="7.8" font-weight="bold" textLength="26.9" lengthAdjust="spacingAndGlyphs" fill="#000" stroke="#000" stroke-width="0.2">100 nM</text>
<text x="403.7" y="710.8" font-size="7.8" font-weight="bold" textLength="18.0" lengthAdjust="spacingAndGlyphs" fill="#000" stroke="#000" stroke-width="0.2">1 µM</text>
<text x="431" y="710.8" font-size="7.8" font-weight="bold" textLength="21.7" lengthAdjust="spacingAndGlyphs" fill="#000" stroke="#000" stroke-width="0.2">10 µM</text>
<text x="457.5" y="710.8" font-size="7.8" font-weight="bold" textLength="27.0" lengthAdjust="spacingAndGlyphs" fill="#000" stroke="#000" stroke-width="0.2">100 µM</text>
<text x="331.2" y="721.4" font-size="11" font-weight="bold" textLength="135.5" lengthAdjust="spacingAndGlyphs" fill="#000" stroke="#000" stroke-width="0.25">BAY 60-6583 Concentration</text>
</svg>
</body></html>
